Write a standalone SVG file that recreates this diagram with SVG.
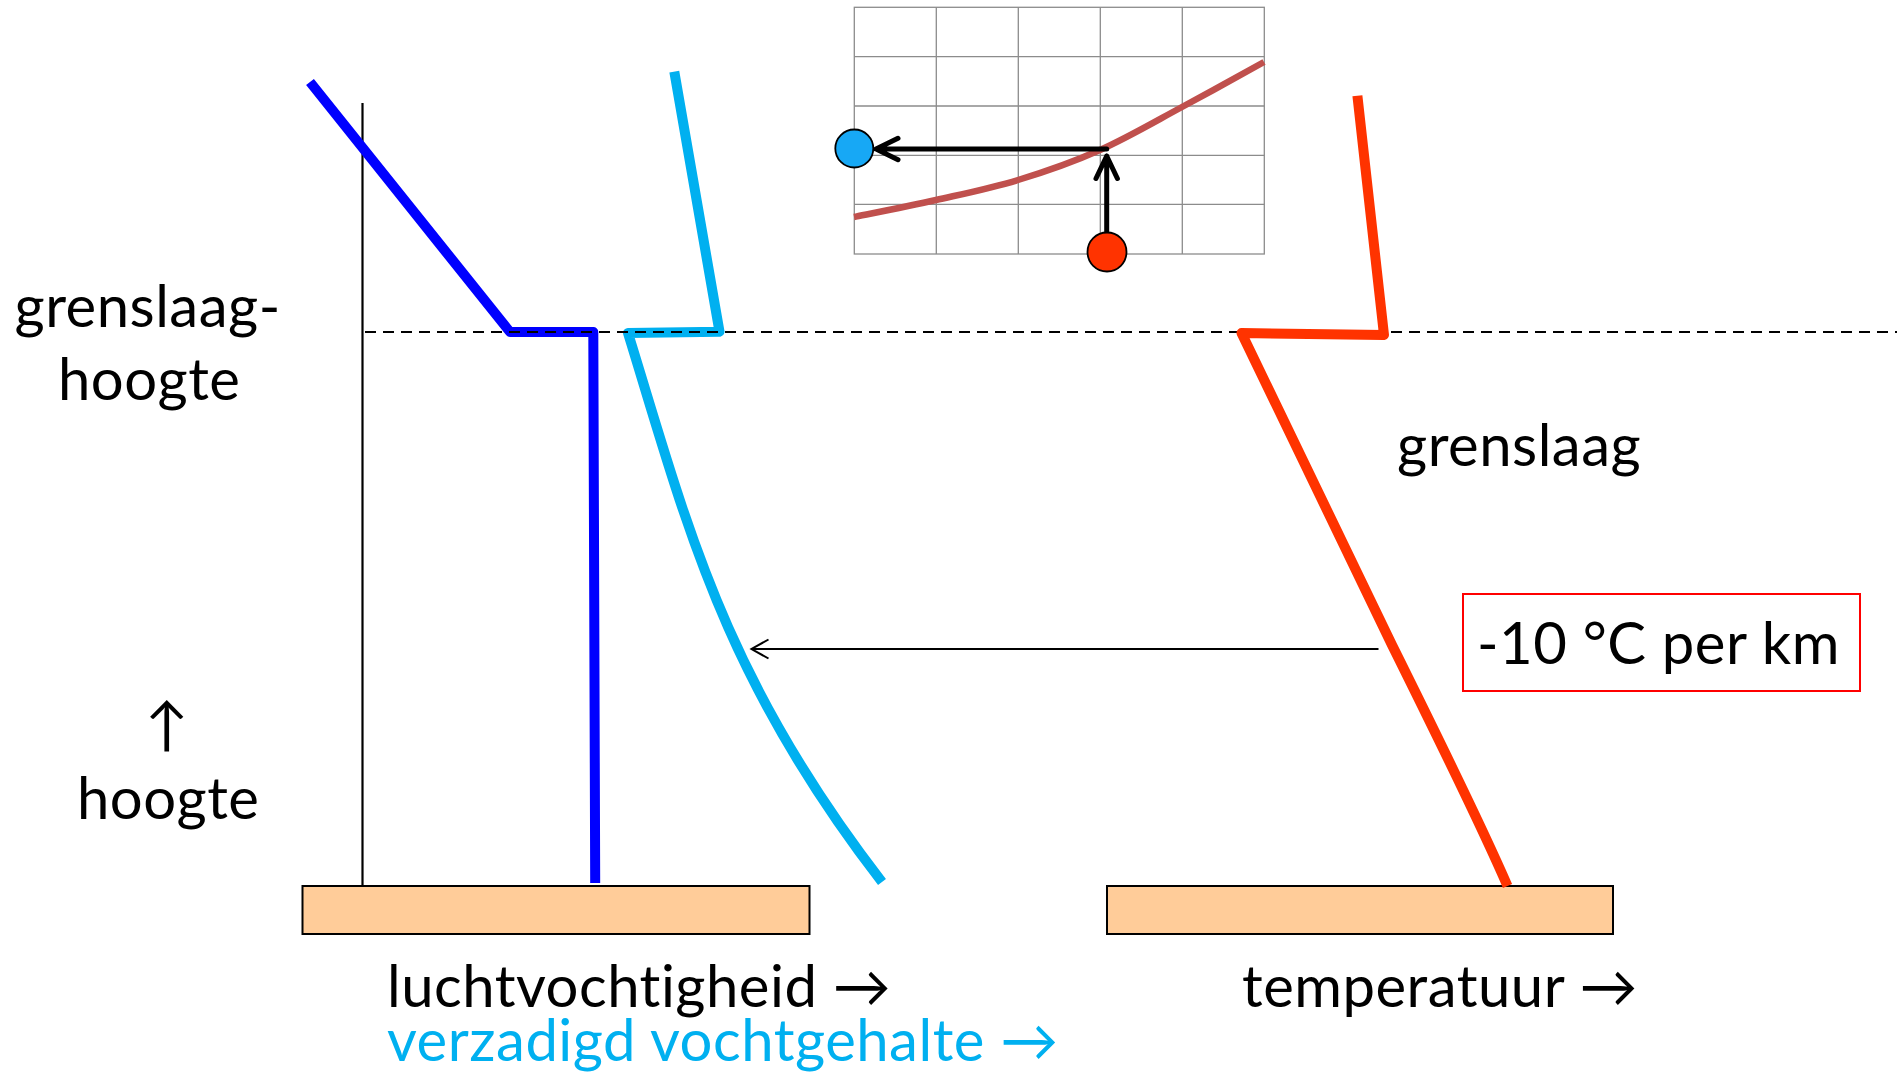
<svg xmlns="http://www.w3.org/2000/svg" width="1897" height="1072" viewBox="0 0 1897 1072">
<defs>
<style>
.t{font-family:Lato,"Liberation Sans",sans-serif;font-size:58px;letter-spacing:0.5px;fill:#000}
.lb{fill:#00B0F0}
.grid{stroke:#8c8c8c;stroke-width:1.3;fill:none}
.ground{fill:#FFCC99;stroke:#000;stroke-width:2}
.prof{fill:none;stroke-width:10;stroke-linejoin:round;stroke-linecap:butt}
.ink{fill:none;stroke:#000;stroke-width:5;stroke-linecap:round;stroke-linejoin:round}
.thin{fill:none;stroke:#000;stroke-width:2}
</style>
</defs>
<rect width="1897" height="1072" fill="#fff"/>

<g id="chart">
  <rect class="grid" x="854.3" y="7.3" width="410" height="246.7"/>
  <path class="grid" d="M936.3,7.3V254M1018.3,7.3V254M1100.3,7.3V254M1182.3,7.3V254M854.3,56.7H1264.3M854.3,106H1264.3M854.3,155.3H1264.3M854.3,204.3H1264.3"/>
  <path d="M854,217 C867.7,214.2 908.7,206.2 936,200 C963.3,193.8 990.7,188.3 1018,180 C1045.3,171.7 1072.7,162.2 1100,150 C1127.3,137.8 1154.7,121.7 1182,107 C1209.3,92.3 1250.3,69.5 1264,62" stroke="#C0504D" stroke-width="6.5" fill="none"/>
  <path class="ink" d="M1106.7,235V156M1096,178.5L1106.7,156L1117.4,178.5"/>
  <path class="ink" d="M1106.7,149H876M898,138.3L876,149L898,159.7"/>
  <circle cx="854.3" cy="148.5" r="19" fill="#17A8F5" stroke="#000" stroke-width="1.8"/>
  <circle cx="1107" cy="252" r="19.5" fill="#FF3300" stroke="#000" stroke-width="1.8"/>
</g>

<g id="axis">
  <path d="M362.5,103V886" stroke="#000" stroke-width="2.2" fill="none"/>
</g>

<g id="ground-left"><rect class="ground" x="302.5" y="886" width="507" height="48"/></g>
<g id="ground-right"><rect class="ground" x="1107" y="886" width="506" height="48"/></g>

<g id="profile-humidity">
  <path class="prof" stroke="#0000FF" d="M310,82L510,332L593.3,332L595.2,883"/>
</g>
<g id="profile-saturation">
  <path class="prof" stroke="#00B0F0" d="M674.3,71.7L719.5,331.7L628,333C687,524 722,675 882,882"/>
</g>

<g id="boundary-line">
  <path d="M365,332H1897" stroke="#000" stroke-width="2.2" stroke-dasharray="11,7" fill="none"/>
</g>

<g id="profile-temperature">
  <path class="prof" stroke="#FF3300" d="M1357.4,95.7L1384,335L1241.5,333L1392,645Q1478,818 1507.5,886"/>
</g>

<g id="connectors">
  <path class="thin" d="M1378.5,649H751.5"/>
  <path class="thin" d="M768.5,639.5L751.5,649L768.5,658.5"/>
</g>

<g id="label-grenslaaghoogte">
  <text class="t" x="14.5" y="327">grenslaag-</text>
  <text class="t" x="58" y="400">hoogte</text>
</g>
<g id="label-hoogte">
  <text class="t" x="167" y="745" text-anchor="middle">↑</text>
  <text class="t" x="77" y="819">hoogte</text>
</g>
<g id="label-grenslaag">
  <text class="t" x="1397" y="466">grenslaag</text>
</g>
<g id="label-lapse">
  <rect x="1463" y="594" width="397" height="97" fill="#fff" stroke="#FF0000" stroke-width="2"/>
  <text class="t" x="1477" y="664">-10 °C per km</text>
</g>
<g id="label-x-left">
  <text class="t" x="387" y="1007">luchtvochtigheid →</text>
  <text class="t lb" x="387" y="1061">verzadigd vochtgehalte →</text>
</g>
<g id="label-x-right">
  <text class="t" x="1242" y="1007">temperatuur →</text>
</g>
</svg>
